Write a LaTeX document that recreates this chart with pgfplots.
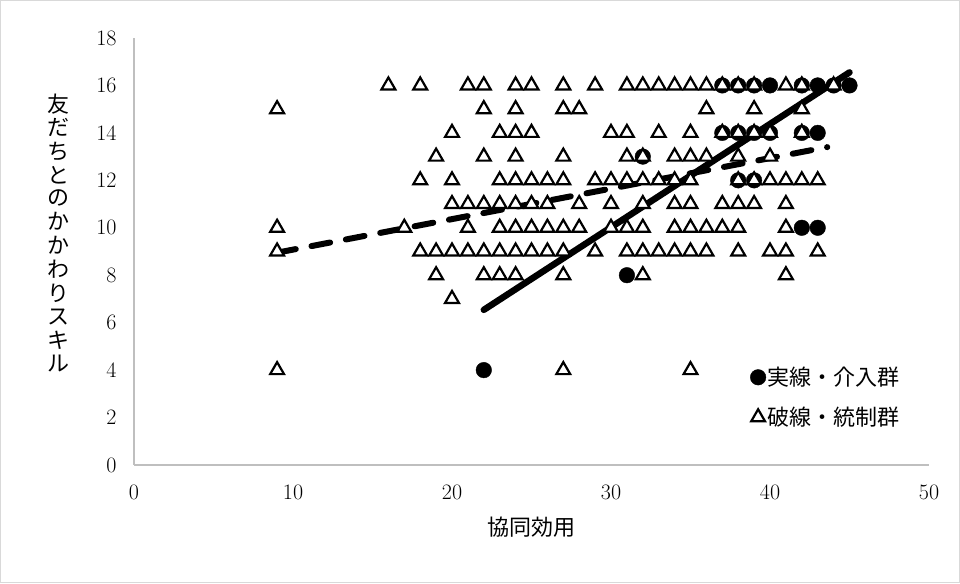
\documentclass[border=0pt]{standalone}
\usepackage{fontspec}
\newfontfamily\jp{Noto Sans CJK JP}
\usepackage{pgfplots}
\pgfplotsset{compat=1.18}
\definecolor{axgray}{HTML}{BFBFBF}
\begin{document}
\begin{tikzpicture}[x=1pt,y=1pt]
\useasboundingbox (0,0) rectangle (960,583);
\draw[gray!30, line width=1pt] (0.5,0.5) rectangle (959.5,582.5);
\begin{axis}[
  at={(134pt,118pt)}, anchor=south west,
  scale only axis, width=795pt, height=427pt,
  xmin=0, xmax=50, ymin=0, ymax=18,
  xtick={0,10,...,50}, ytick={0,2,...,18},
  axis x line=bottom, axis y line=left,
  axis line style={axgray, line width=1.3pt, -},
  major tick length=0pt,
  /pgf/number format/assume math mode=true,
  tick label style={font=\fontsize{22}{26}\selectfont},
  x tick label style={yshift=-16pt},
  y tick label style={xshift=-14pt},
  clip=false,
  xlabel={\jp 協同効用},
  x label style={at={(axis description cs:0.5,-0.145)}, anchor=center, font=\fontsize{22}{26}\selectfont},
  ylabel={\jp\fontsize{22}{22}\selectfont\begin{tabular}{@{}c@{}}友\\だ\\ち\\と\\の\\か\\か\\わ\\り\\ス\\キ\\ル\end{tabular}},
  y label style={rotate=-90, at={(axis description cs:-0.0956,0.537)}, anchor=center},
  legend style={at={(0.775,0.234)}, anchor=north west, draw=none, fill=none,
    font=\jp\fontsize{22}{26}\selectfont, row sep=16pt, inner sep=0pt,
    nodes={inner sep=2pt}, cells={anchor=west}},
  legend image code/.code={\draw[#1] plot coordinates {(0pt,0pt)};},
]
% intervention group (filled circles)
\addplot[only marks, mark=*, mark size=7.8pt, mark options={fill=black, draw=black}] coordinates {
(22,4) (31,8) (32,13) (38,12) (39,12) (42,10) (43,10)
(37,14) (38,14) (39,14) (40,14) (42,14) (43,14)
(37,16) (38,16) (39,16) (40,16) (42,16) (43,16) (44,16) (45,16)
};
\addlegendentry{実線・介入群}
% control group (open triangles)
\addplot[only marks, mark=triangle*, mark size=8pt, mark options={fill=white, draw=black, line width=2.2pt}] coordinates {
(16,16) (18,16) (21,16) (22,16) (24,16) (25,16) (27,16) (29,16) (31,16) (32,16) (33,16) (34,16) (35,16) (36,16) (37,16) (38,16) (39,16) (41,16) (42,16) (44,16)
(9,15) (22,15) (24,15) (27,15) (28,15) (36,15) (39,15) (42,15)
(20,14) (23,14) (24,14) (25,14) (30,14) (31,14) (33,14) (35,14) (37,14) (38,14) (39,14) (40,14) (42,14)
(19,13) (22,13) (24,13) (27,13) (31,13) (32,13) (34,13) (35,13) (36,13) (38,13) (40,13)
(18,12) (20,12) (23,12) (24,12) (25,12) (26,12) (27,12) (29,12) (30,12) (31,12) (32,12) (33,12) (34,12) (35,12) (38,12) (39,12) (40,12) (41,12) (42,12) (43,12)
(20,11) (21,11) (22,11) (23,11) (24,11) (25,11) (26,11) (28,11) (30,11) (32,11) (34,11) (35,11) (37,11) (38,11) (39,11) (41,11)
(9,10) (17,10) (21,10) (23,10) (24,10) (25,10) (26,10) (27,10) (28,10) (30,10) (31,10) (32,10) (34,10) (35,10) (36,10) (37,10) (38,10) (41,10)
(9,9) (18,9) (19,9) (20,9) (21,9) (22,9) (23,9) (24,9) (25,9) (26,9) (27,9) (29,9) (31,9) (32,9) (33,9) (34,9) (35,9) (36,9) (38,9) (40,9) (41,9) (43,9)
(19,8) (22,8) (23,8) (24,8) (27,8) (32,8) (41,8)
(20,7)
(9,4) (27,4) (35,4)
};
\addlegendentry{破線・統制群}
% trend lines
\addplot[forget plot, black, line width=6pt, line cap=round, dash pattern=on 19pt off 16pt] coordinates {(9,8.95) (43.6,13.4)};
\addplot[forget plot, black, line width=6.5pt, line cap=round] coordinates {(22,6.54) (45,16.55)};
\end{axis}
\end{tikzpicture}
\end{document}
